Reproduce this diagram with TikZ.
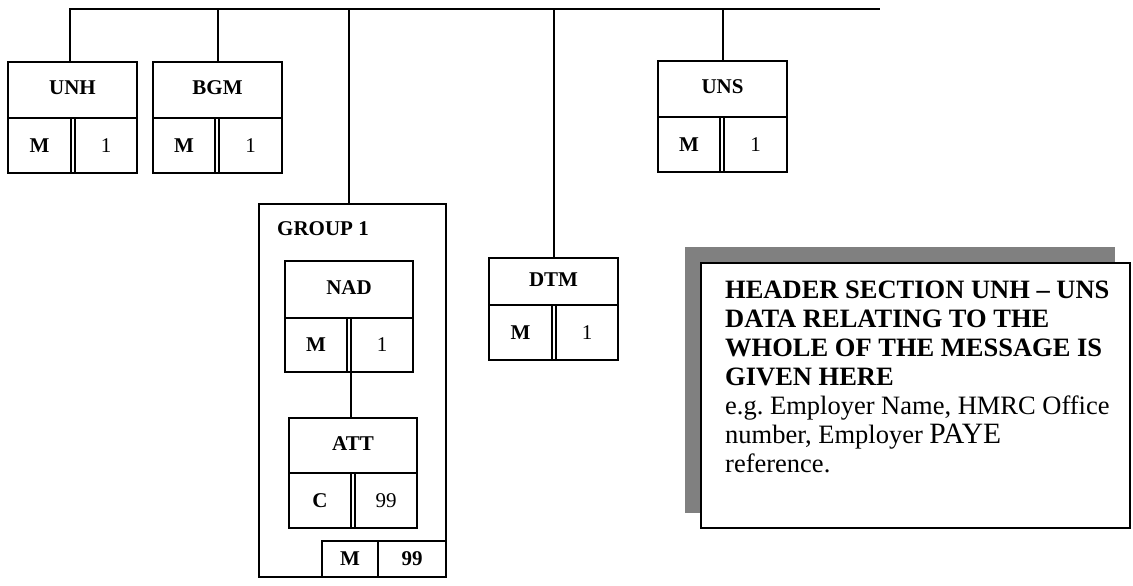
\documentclass[tikz,border=0pt]{standalone}
\usepackage{fontspec}
\setmainfont{Liberation Serif}
\frenchspacing
\definecolor{shadowgray}{HTML}{808080}
\tikzset{
  box/.style={draw, line width=2pt, outer sep=0pt, inner sep=0pt},
  cell/.style={outer sep=0pt, inner sep=0pt, font=\fontsize{21}{25}\selectfont},
  toplab/.style={box, font=\bfseries\fontsize{21}{25}\selectfont, text depth=4pt},
  divline/.style={line width=1.1pt},
  conn/.style={line width=2pt},
}
\begin{document}
\begin{tikzpicture}[x=1pt,y=-1pt]
\useasboundingbox (0,0) rectangle (1133,586);
% segment boxes
\foreach \n/\xa/\xb/\ya/\ym/\yb/\xd/\lab/\st/\rp in {
  unh/8/137/62/118/173/71/UNH/M/1,
  bgm/153/282/62/118/173/215/BGM/M/1,
  uns/658/787/61/117/172/720/UNS/M/1,
  dtm/489/618/258/305/360/552/DTM/M/1,
  nad/285/413/261/318/372/347/NAD/M/1,
  att/289/417/418/473/528/351/ATT/C/99}{
  \node[toplab, anchor=north west, minimum width=\xb-\xa, minimum height=\ym-\ya] (\n) at (\xa,\ya) {\lab};
  \node[cell, anchor=north west, minimum width=\xd-\xa, minimum height=\yb-\ym] (\n-s) at (\n.south west) {\textbf{\st}};
  \node[cell, anchor=north east, minimum width=\xb-\xd-4, minimum height=\yb-\ym] (\n-r) at (\n.south east) {\rp};
  \draw[box] (\n.south west) rectangle (\n-r.south east);
  \draw[divline] (\n-s.north east) -- (\n-s.south east) (\n-r.north west) -- (\n-r.south west);
}
% group 1
\node[box, anchor=north west, minimum width=187, minimum height=373] (grp) at (259,204) {};
\node[anchor=base west, inner sep=0pt, font=\bfseries\fontsize{21}{25}\selectfont] (grplab) at (277,235) {GROUP 1};
\node[box, cell, anchor=south east, minimum width=68, minimum height=36, font=\bfseries\fontsize{21}{25}\selectfont] (grp-r) at (grp.south east) {99};
\node[box, cell, anchor=south east, minimum width=56, minimum height=36, font=\bfseries\fontsize{21}{25}\selectfont] (grp-s) at (grp-r.south west) {M};
% connectors
\coordinate (busR) at (880,9);
\draw[conn] ([xshift=-2.5]unh.north) |- (busR);
\draw[conn] (bgm.north) -- (bgm.north |- busR);
\draw[conn] ([xshift=-4]grp.north) -- ([xshift=-4]grp.north |- busR);
\draw[conn] (dtm.north) -- (dtm.north |- busR);
\draw[conn] (uns.north) -- (uns.north |- busR);
\draw[conn] (nad-r.south west) -- (nad-r.south west |- att.north);
% note with shadow
\fill[shadowgray] (685,247) rectangle (1115,513);
\node[box, fill=white, anchor=north west, minimum width=429, minimum height=265] (note) at (701,263) {};
\node[anchor=north west, align=left, inner sep=0pt, font=\fontsize{26.5}{29}\selectfont] (notetext) at (725,280.5)
  {\textbf{HEADER SECTION UNH – UNS}\\
   \textbf{DATA RELATING TO THE}\\
   \textbf{WHOLE OF THE MESSAGE IS}\\
   \textbf{GIVEN HERE}\\
   e.g. Employer Name, HMRC Office\\
   number, Employer {\fontsize{29.5}{29}\selectfont PAYE}\\
   reference.};
\end{tikzpicture}
\end{document}
